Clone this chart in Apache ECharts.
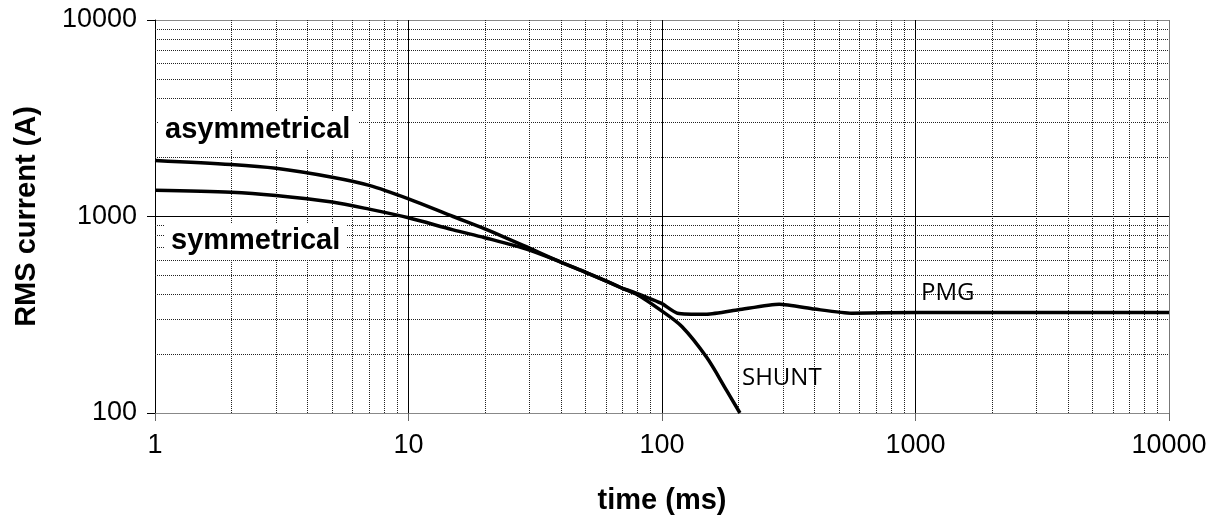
<!DOCTYPE html>
<html>
<head>
<meta charset="utf-8">
<script src="https://cdn.jsdelivr.net/npm/echarts@6/dist/echarts.min.js"></script>
<style>
html,body{margin:0;padding:0;background:#fff;}
#chart{width:1219px;height:522px;}
</style>
</head>
<body>
<div id="chart"></div>
<script>
// ---- data ----
const asymT = [1, 2, 3, 5, 7, 10, 15, 20, 30, 40, 50, 60, 70];
const asymV = [1930, 1840, 1760, 1585, 1440, 1230, 1000, 865, 690, 585, 520, 470, 430];
const symT  = [1, 2, 3, 5, 7, 10, 15, 20, 30, 40, 50, 60, 70];
const symV  = [1360, 1330, 1280, 1185, 1090, 985, 855, 780, 675, 585, 520, 470, 430];
const pmgT  = [70, 80, 100, 115, 150, 200, 290, 400, 560, 1000, 10000];
const pmgV  = [430, 405, 360, 322, 318, 335, 358, 338, 322, 325, 325];
const shuntT = [70, 80, 100, 120, 150, 180, 203];
const shuntV = [430, 400, 330, 275, 192, 130, 100];

const xTicks = [1, 10, 100, 1000, 10000];
const yTicks = [100, 1000, 10000];
const xMinor = [2,3,4,5,6,7,8,9,20,30,40,50,60,70,80,90,200,300,400,500,600,700,800,900,2000,3000,4000,5000,6000,7000,8000,9000];
const yMinor = [200,300,400,500,600,700,800,900,2000,3000,4000,5000,6000,7000,8000,9000];

const xTitle = 'time (ms)';
const yTitle = 'RMS current (A)';
const labels = { asym: 'asymmetrical', sym: 'symmetrical', pmg: 'PMG', shunt: 'SHUNT' };

function pairs(t, v) { return t.map((x, i) => [x, v[i]]); }

const chart = echarts.init(document.getElementById('chart'));
const curveStyle = { color: '#000', width: 3.5 };

const option = {
  animation: false,
  backgroundColor: '#fff',
  grid: { left: 155, right: 50, top: 20, bottom: 109, containLabel: false },
  xAxis: {
    type: 'log', logBase: 10, min: xTicks[0], max: xTicks[xTicks.length - 1],
    name: xTitle, nameLocation: 'middle', nameGap: 73,
    nameTextStyle: { fontFamily: 'Liberation Sans', fontWeight: 'bold', fontSize: 29, color: '#000' },
    axisLine: { show: true, lineStyle: { color: '#888', width: 1 } },
    axisTick: { show: true, length: 8, lineStyle: { color: '#666' } },
    axisLabel: { fontFamily: 'Liberation Sans', fontSize: 27, color: '#000', margin: 19,
                 formatter: v => String(v) },
    splitLine: { show: true, lineStyle: { color: ['#000', '#000', '#000', '#000', '#777'], width: 1 } },
    minorTick: { show: false }, minorSplitLine: { show: false }
  },
  yAxis: {
    type: 'log', logBase: 10, min: yTicks[0], max: yTicks[yTicks.length - 1],
    name: yTitle, nameLocation: 'middle', nameGap: 114,
    nameTextStyle: { fontFamily: 'Liberation Sans', fontWeight: 'bold', fontSize: 29, color: '#000' },
    axisLine: { show: true, lineStyle: { color: '#000', width: 1 } },
    axisTick: { show: true, length: 8, lineStyle: { color: '#000' } },
    axisLabel: { fontFamily: 'Liberation Sans', fontSize: 27, color: '#000', margin: 18,
                 formatter: v => String(v) },
    splitLine: { show: true, lineStyle: { color: ['#888', '#000', '#888'], width: 1 } }
  },
  series: [
    {
      name: 'grid', type: 'line', data: [], silent: true, z: 1,
      markLine: {
        silent: true, symbol: 'none', z: 1, animation: false,
        label: { show: false },
        lineStyle: { color: '#222', width: 1, type: [1, 1] },
        emphasis: { disabled: true },
        data: xMinor.map(v => ({ xAxis: v })).concat(yMinor.map(v => ({ yAxis: v })))
      }
    },
    { name: labels.asym, type: 'line', data: pairs(asymT, asymV), showSymbol: false, smooth: 0.3, lineStyle: curveStyle, z: 3 },
    { name: labels.sym, type: 'line', data: pairs(symT, symV), showSymbol: false, smooth: 0.3, lineStyle: curveStyle, z: 3 },
    { name: labels.pmg, type: 'line', data: pairs(pmgT, pmgV), showSymbol: false, smooth: 0.2, lineStyle: curveStyle, z: 3 },
    { name: labels.shunt, type: 'line', data: pairs(shuntT, shuntV), showSymbol: false, smooth: 0.3, lineStyle: curveStyle, z: 3 }
  ],
  graphic: [
    { type: 'text', z: 10, left: 158, top: 112,
      style: { text: labels.asym, font: 'bold 29px "Liberation Sans"', fill: '#000', backgroundColor: '#fff', padding: [3, 8, 5, 7] } },
    { type: 'text', z: 10, left: 165, top: 224,
      style: { text: labels.sym, font: 'bold 29px "Liberation Sans"', fill: '#000', backgroundColor: '#fff', padding: [2, 6, 4, 6] } },
    { type: 'text', z: 10, left: 921, top: 281,
      style: { text: labels.pmg, font: '24px "Open Sans"', fill: '#000' } },
    { type: 'text', z: 10, left: 742, top: 366,
      style: { text: labels.shunt, font: '24px "Open Sans"', fill: '#000' } }
  ]
};
chart.setOption(option);
</script>
</body>
</html>
